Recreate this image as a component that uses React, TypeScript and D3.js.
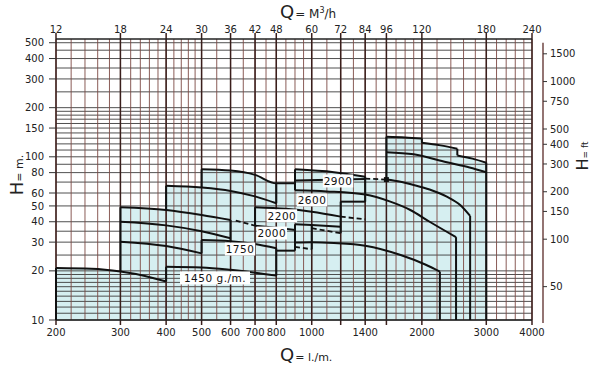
import React from 'react';
import * as d3 from 'd3';

// axis ticks
const flowLabelsLpm = [200, 300, 400, 500, 600, 700, 800, 1000, 1400, 2000, 3000, 4000];
const flowMajorLpm = [200, 300, 400, 500, 600, 700, 800, 1000, 1200, 1400, 1600, 2000, 3000, 4000];
const flowLabelsM3h = [12, 18, 24, 30, 36, 42, 48, 60, 72, 84, 96, 120, 180, 240];
const headLabelsM = [10, 20, 30, 40, 50, 60, 80, 100, 150, 200, 300, 400, 500];
const headLabelsFt = [50, 100, 150, 200, 300, 400, 500, 750, 1000, 1500];

// log paper grid
const gridFlow = [...d3.range(200, 500, 20), ...d3.range(500, 1000, 50), ...d3.range(1000, 2000, 100), ...d3.range(2000, 4001, 200)];
const gridHead = [...d3.range(10, 21, 1), 25, 30, 35, 40, 50, 60, 70, 80, 90, ...d3.range(100, 200, 10), ...d3.range(200, 501, 50)];

// pump curves [Q l/min, H m]
const c1450a = [[200, 20.8], [250, 20.6], [300, 19.8], [350, 18.6], [400, 17.2]];
const c1450b = [[400, 21.2], [500, 21.0], [600, 20.3], [700, 19.5], [800, 18.7]];
const c1450c = [[900, 29.8], [1000, 29.9], [1150, 29.6], [1400, 28.5], [1750, 25.0], [2050, 21.8], [2240, 19.8]];
const c1750a = [[300, 30.2], [400, 28.4], [500, 25.6]];
const c1750b = [[500, 30.9], [600, 30.4], [700, 29.2], [800, 27.5]];
const c1750c = [[800, 26.6], [900, 26.6]];
const c2000a = [[300, 40.0], [400, 38.0], [500, 35.0], [600, 31.7]];
const c2000b = [[700, 37.8], [800, 36.7], [900, 35.6]];
const c2000c = [[900, 38.6], [1000, 38.2], [1200, 37.3]];
const c2200a = [[300, 49.1], [400, 47.2], [500, 44.0], [600, 41.0]];
const c2200b = [[700, 49.1], [850, 48.0], [1000, 46.1], [1200, 43.0]];
const c2200c = [[1200, 53.1], [1400, 53.1]];
const c2600a = [[400, 66.5], [500, 64.8], [600, 61.8], [700, 57.2], [800, 51.9]];
const c2600b = [[900, 62.3], [1100, 61.3], [1400, 58.7], [1640, 53.1], [1860, 47.2], [2100, 40.0], [2480, 32.2]];
const c2900a = [[500, 83.8], [600, 82.3], [700, 77.5], [800, 68.8], [900, 68.8]];
const c2900b = [[900, 83.8], [1150, 80.5], [1400, 75.5]];
const c2900c = [[900, 71.5], [1400, 73.0]];
const c2900d = [[1600, 72.5], [1750, 70.3], [1900, 67.2], [2100, 63.0], [2340, 57.0], [2550, 50.5], [2710, 43.4]];
const bigTop1 = [[1600, 132.8], [1800, 131.5], [2000, 129.5]];
const bigTop2 = [[2000, 122], [2250, 117.5], [2500, 112]];
const bigTop3 = [[2500, 102], [2750, 97.5], [3000, 92]];
const bigInner = [[1600, 106.6], [1900, 103.5], [2340, 92.5], [2700, 86], [3000, 80.5]];

const solidCurves = [c1450a, c1450b, c1450c, c1750a, c1750b, c1750c, c2000a, c2000b, c2000c,
  c2200a, c2200b, c2200c, c2600a, c2600b, c2900a, c2900b, c2900c, c2900d, bigTop1, bigTop2, bigTop3, bigInner];

// limits: [Q, Hlow, Hhigh]
const limits = [
  [200, 10, 20.8], [300, 19.8, 49.1], [400, 17.2, 21.2], [400, 47.2, 66.5], [500, 25.6, 30.9],
  [500, 64.8, 83.8], [600, 30.4, 41.0], [700, 37.8, 49.1], [800, 18.7, 27.5], [800, 51.9, 68.8],
  [900, 26.6, 38.6], [900, 62.3, 83.8], [1000, 27.1, 38.5], [1200, 34.0, 53.1], [1400, 53.1, 75.5],
  [1600, 72.5, 132.8], [2000, 122, 129.5], [2240, 10, 19.8], [2480, 10, 32.2], [2500, 102, 112],
  [2710, 10, 43.4], [3000, 10, 92],
];

const dashed = [
  [[620, 40.7], [700, 37.8]],
  [[900, 28.1], [1000, 27.1]],
  [[1000, 36.5], [1200, 34.0]],
  [[1200, 43.0], [1400, 41.4]],
  [[1400, 73.6], [1600, 72.5]],
];

const speedLabels = [
  { text: '1450 g./m.', q: 544, h: 18.1 },
  { text: '1750', q: 637, h: 27.2 },
  { text: '2000', q: 778, h: 34.1 },
  { text: '2200', q: 829, h: 43.5 },
  { text: '2600', q: 1002, h: 54.4 },
  { text: '2900', q: 1180, h: 71.1 },
];

const shaded = [
  [200, 10], ...c1450a.slice(0, 3), ...c2200a.slice(0, 2), ...c2600a.slice(0, 2), ...c2900a,
  ...c2900b, [1400, 73.6], [1600, 72.5], ...bigTop1, ...bigTop2, ...bigTop3, [3000, 10],
];

const x = d3.scaleLog().domain([200, 4000]).range([56, 532]);
const xTop = d3.scaleLog().domain([12, 240]).range([56, 532]);
const y = d3.scaleLog().domain([10, 527]).range([320, 39]);
const yFt = d3.scaleLog().domain([29.4, 1764]).range([323, 42.7]);

const smooth = d3.line<number[]>().x(d => x(d[0])).y(d => y(d[1])).curve(d3.curveMonotoneX);
const straight = d3.line<number[]>().x(d => x(d[0])).y(d => y(d[1]));

const font = 'DejaVu Sans, Liberation Sans, Arial, sans-serif';

export default function App() {
  return (
    <svg width={600} height={371} style={{ position: 'absolute', left: 0, top: 0, background: '#fff' }}
      fontFamily={font}>
      <rect width={600} height={371} fill="#fff" />
      <path d={straight(shaded) + 'Z'} fill="#d6eff1" />

      {gridHead.map(v => (
        <line key={'h' + v} x1={x(200)} x2={x(4000)} y1={y(v)} y2={y(v)} stroke="#3c3c3c" strokeWidth={0.9} />
      ))}
      {gridFlow.map(v => (
        <line key={'v' + v} x1={x(v)} x2={x(v)} y1={y(527)} y2={y(10)} stroke="#7d4a44" strokeWidth={0.9} />
      ))}
      {flowMajorLpm.map(v => (
        <line key={'m' + v} x1={x(v)} x2={x(v)} y1={y(527) - 6} y2={y(10) + 5} stroke="#3a1f1c" strokeWidth={1.5} />
      ))}
      <line x1={x(200)} x2={x(4000)} y1={y(527)} y2={y(527)} stroke="#222" strokeWidth={1.6} />
      <line x1={x(200)} x2={x(4000)} y1={y(10)} y2={y(10)} stroke="#222" strokeWidth={1.4} />

      {/* left axis */}
      {headLabelsM.map(v => (
        <g key={'l' + v}>
          <line x1={49} x2={56} y1={y(v)} y2={y(v)} stroke="#333" strokeWidth={1} />
          <text x={44} y={y(v) + 3.6} textAnchor="end" fontSize={10} fill="#222">{v}</text>
        </g>
      ))}
      {/* right axis (feet) */}
      <line x1={543} x2={543} y1={yFt.range()[1]} y2={yFt.range()[0]} stroke="#5a2a28" strokeWidth={1.3} />
      {headLabelsFt.map(v => (
        <g key={'r' + v}>
          <line x1={543} x2={547} y1={yFt(v)} y2={yFt(v)} stroke="#333" strokeWidth={1} />
          <text x={550} y={yFt(v) + 3.6} fontSize={10} fill="#222">{v}</text>
        </g>
      ))}
      {flowLabelsLpm.map(v => (
        <text key={'b' + v} x={x(v)} y={335.5} textAnchor="middle" fontSize={10} fill="#222">{v}</text>
      ))}
      {flowLabelsM3h.map(v => (
        <text key={'t' + v} x={xTop(v)} y={32.8} textAnchor="middle" fontSize={10} fill="#222">{v}</text>
      ))}

      {/* pump curves */}
      {solidCurves.map((c, i) => (
        <path key={'c' + i} d={smooth(c) || ''} fill="none" stroke="#111" strokeWidth={2} />
      ))}
      {limits.map((l, i) => (
        <line key={'lim' + i} x1={x(l[0])} x2={x(l[0])} y1={y(l[1])} y2={y(l[2])} stroke="#111" strokeWidth={2} />
      ))}
      {dashed.map((c, i) => (
        <path key={'d' + i} d={straight(c) || ''} fill="none" stroke="#111" strokeWidth={1.8} strokeDasharray="5,3" />
      ))}
      <rect x={x(1600) - 2.5} y={y(72.5) - 2.5} width={5} height={5} fill="#111" />

      {speedLabels.map(s => {
        const w = s.text.length * 6.6 + 4;
        return (
          <g key={s.text}>
            <rect x={x(s.q) - w / 2} y={y(s.h) - 6.5} width={w} height={13} fill="#fff" />
            <text x={x(s.q)} y={y(s.h) + 4} textAnchor="middle" fontSize={10.5} letterSpacing={0.5} fill="#111">{s.text}</text>
          </g>
        );
      })}

      {/* titles */}
      <text x={280} y={18} fill="#222">
        <tspan fontSize={18}>Q</tspan>
        <tspan fontSize={12} dx={1}>= M</tspan>
        <tspan fontSize={8} dy={-5}>3</tspan>
        <tspan fontSize={12} dy={5}>/h</tspan>
      </text>
      <text x={280} y={361} fill="#222">
        <tspan fontSize={18}>Q</tspan>
        <tspan fontSize={11} dx={1}>= l./m.</tspan>
      </text>
      <text transform="translate(23,175) rotate(-90)" textAnchor="middle" fill="#222">
        <tspan fontSize={18}>H</tspan>
        <tspan fontSize={11}>= m.</tspan>
      </text>
      <text transform="translate(588,156) rotate(-90)" textAnchor="middle" fill="#222">
        <tspan fontSize={16}>H</tspan>
        <tspan fontSize={9}>= ft</tspan>
      </text>
    </svg>
  );
}
